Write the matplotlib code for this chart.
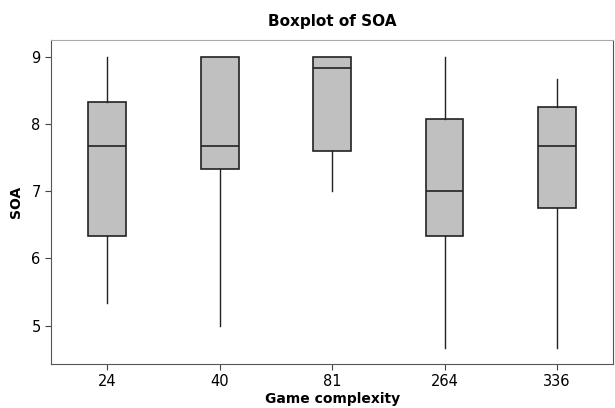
import matplotlib
matplotlib.use("Agg")
import matplotlib.pyplot as plt

# five-number summaries
groups = ["24", "40", "81", "264", "336"]
whis_lo = [5.33, 5.0, 7.0, 4.67, 4.67]
q1 = [6.33, 7.33, 7.6, 6.33, 6.75]
med = [7.67, 7.67, 8.83, 7.0, 7.67]
q3 = [8.33, 9.0, 9.0, 8.08, 8.25]
whis_hi = [9.0, 9.0, 9.0, 9.0, 8.67]

plt.rcParams["font.family"] = ["DejaVu Sans"]

stats = []
for i in range(len(groups)):
    stats.append({"label": groups[i], "whislo": whis_lo[i], "q1": q1[i],
                  "med": med[i], "q3": q3[i], "whishi": whis_hi[i], "fliers": []})

fig = plt.figure(figsize=(6.15, 4.08), dpi=100)
ax = fig.add_axes([0.083, 0.108, 0.914, 0.794])

ax.bxp(stats, widths=0.335, patch_artist=True, showcaps=False,
       boxprops=dict(facecolor="#c0c0c0", edgecolor="#222222", linewidth=1.2),
       medianprops=dict(color="#222222", linewidth=1.2),
       whiskerprops=dict(color="#222222", linewidth=1.0))

ax.set_xlim(0.5, 5.5)
ax.set_ylim(4.43, 9.25)
ax.set_yticks([5, 6, 7, 8, 9])
ax.tick_params(axis="both", direction="out", length=4, labelsize=10.5, colors="#444444", labelcolor="black")
for s in ax.spines.values():
    s.set_color("#555555")
ax.spines["top"].set_color("#aaaaaa")

ax.set_title("Boxplot of SOA", fontsize=11, fontweight="bold", pad=10)
ax.set_xlabel("Game complexity", fontsize=10, fontweight="bold", labelpad=2)
ax.set_ylabel("SOA", fontsize=10, fontweight="bold", labelpad=6)

fig.savefig("out.png", dpi=100)
